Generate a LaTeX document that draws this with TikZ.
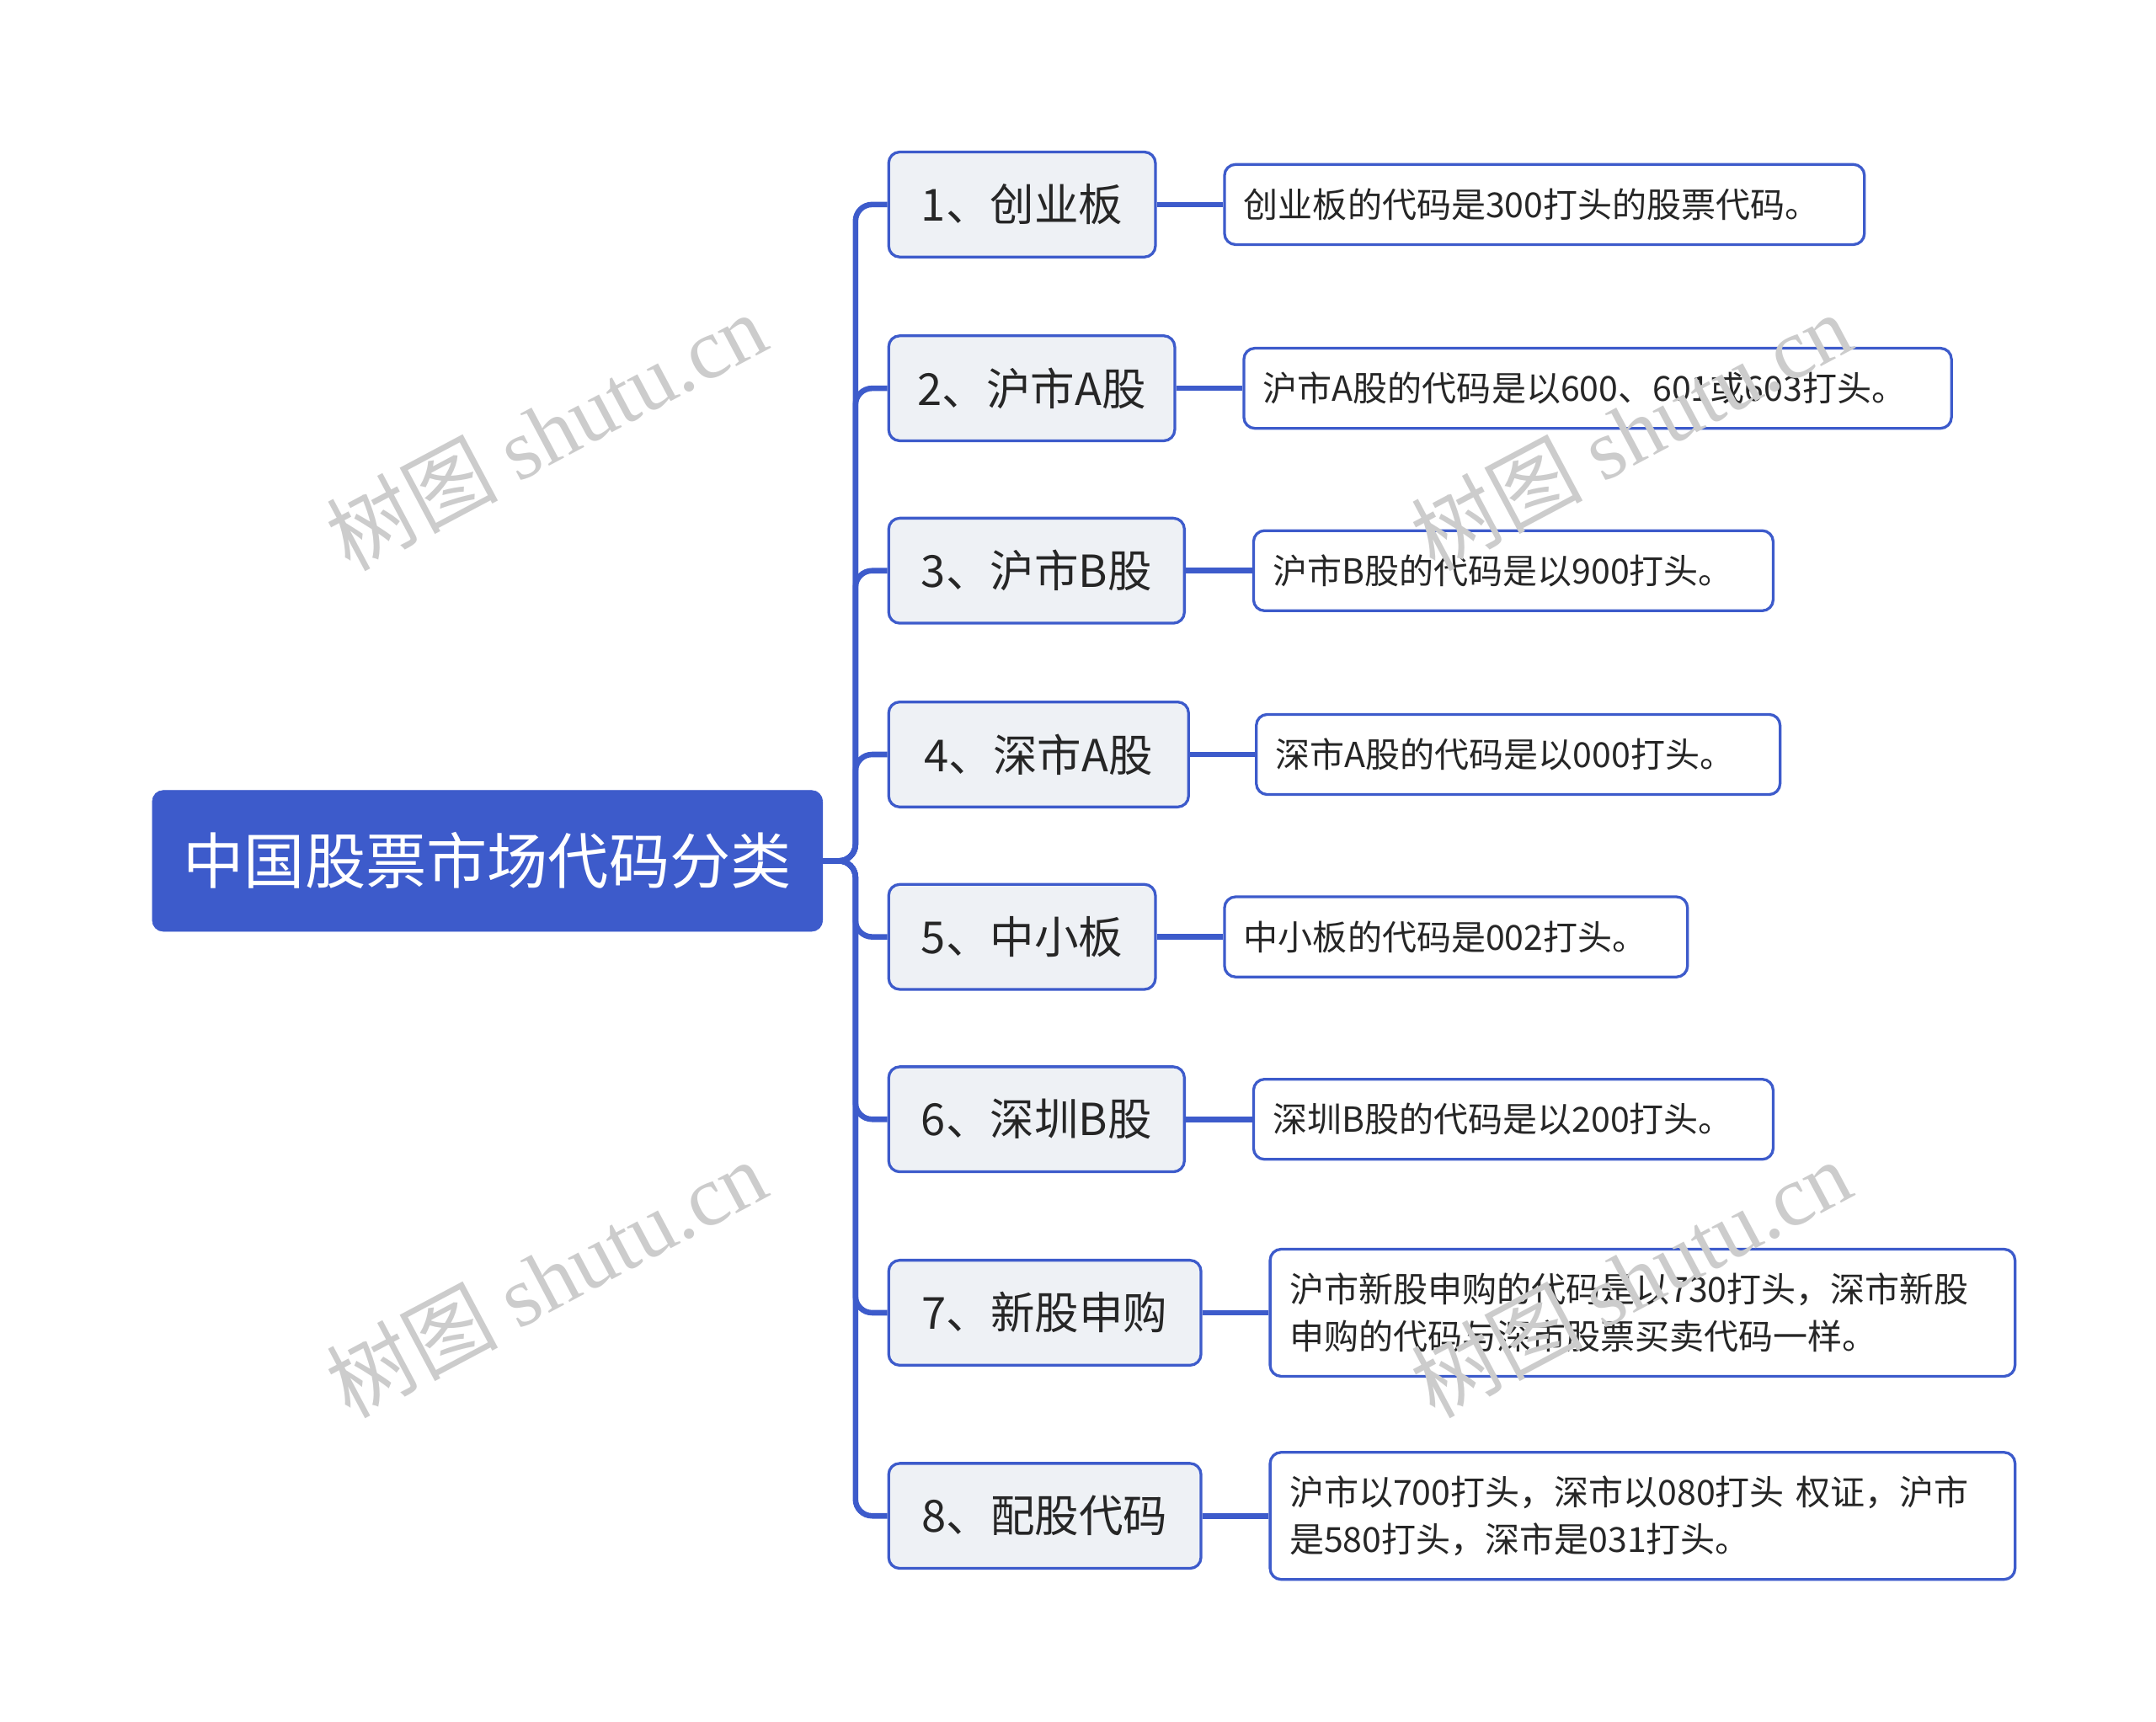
\documentclass[tikz,border=0pt]{standalone}
\usepackage{fontspec}
\setmainfont{Noto Sans CJK SC}
\newfontfamily\wmlat{Liberation Serif}
\definecolor{mblue}{HTML}{3D5BCB}
\definecolor{lfill}{HTML}{EEF1F5}
\definecolor{wm}{HTML}{CCCCCC}
\begin{document}
\begin{tikzpicture}[x=1pt,y=-1pt,
  rootbox/.style={fill=mblue,draw=mblue,rounded corners=8,text=white,font=\fontsize{44}{50}\selectfont,anchor=west,minimum height=102,inner sep=0},
  lone/.style={fill=lfill,draw=mblue,line width=2,rounded corners=8,text=black!85,font=\fontsize{32}{38}\selectfont,anchor=west,minimum height=76,inner sep=0},
  leaf/.style={fill=white,draw=mblue,line width=2,rounded corners=8,text=black!85,font=\fontsize{25}{34}\selectfont,anchor=west,align=left,inner sep=0},
  conn/.style={draw=mblue,line width=4},
  wmk/.style={text=wm,rotate=28,font=\fontsize{62}{70}\selectfont}]
\useasboundingbox (0,0) rectangle (1560,1246);
\node[rootbox,minimum width=485] (root) at (110,623) {中国股票市场代码分类};
\coordinate (tx) at (619,623);
\foreach \n/\y/\w/\t in {1/148/193/1、创业板,2/281/207/2、沪市A股,3/413/214/3、沪市B股,4/546/217/4、深市A股,5/678/193/5、中小板,6/810/214/6、深圳B股,7/950/226/7、新股申购,8/1097/226/8、配股代码}
  \node[lone,minimum width=\w] (a\n) at (642,\y) {\t};
\foreach \n/\y/\x/\w/\h/\t in {
 1/148/885/463/58/{创业板的代码是300打头的股票代码。},
 2/281/899/512/58/{沪市A股的代码是以600、601或603打头。},
 3/413/906/376/58/{沪市B股的代码是以900打头。},
 4/546/908/379/58/{深市A股的代码是以000打头。},
 5/678/885/335/58/{中小板的代码是002打头。},
 6/810/906/376/58/{深圳B股的代码是以200打头。},
 7/950/918/539/92/{沪市新股申购的代码是以730打头，深市新股\\申购的代码与深市股票买卖代码一样。},
 8/1097/918/539/92/{沪市以700打头，深市以080打头 权证，沪市\\是580打头，深市是031打头。}}
  \node[leaf,minimum width=\w,minimum height=\h,text width=\w-28] (b\n) at (\x,\y) {\hspace*{0pt}\t};
\foreach \n in {1,...,8}{
  \draw[conn,rounded corners=12] (root.east) -- (tx) |- (a\n.west);
  \draw[conn] (a\n.east) -- (b\n.west);
}
\foreach \p in {(395,312),(1180,312),(395,925),(1180,925)}
  \node[wmk] at \p {树图 {\wmlat shutu.cn}};
\end{tikzpicture}
\end{document}
